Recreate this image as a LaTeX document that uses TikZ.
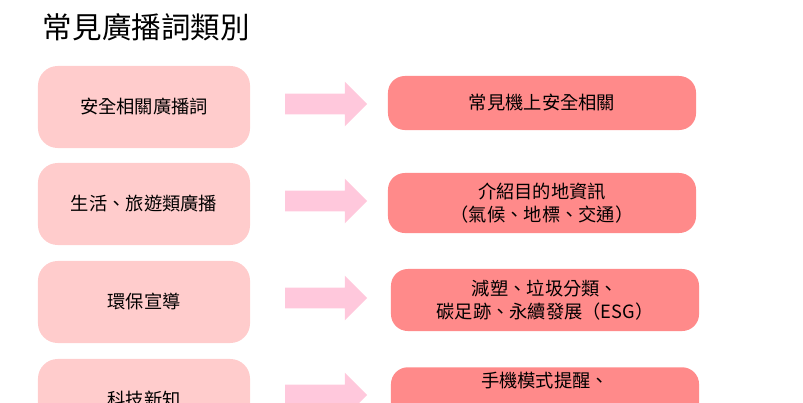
\documentclass[tikz,border=0pt]{standalone}
\usepackage{fontspec}
\newfontfamily\cjk{Noto Sans CJK TC}
\usetikzlibrary{shapes.arrows,positioning}
\definecolor{rosaClaro}{RGB}{255,204,204}
\definecolor{salmon}{RGB}{255,138,138}
\definecolor{rosaFlecha}{RGB}{255,200,220}
\tikzstyle{cat} =[rectangle, rounded corners=14pt, fill=rosaClaro,
                  minimum width=5.3cm, minimum height=2.05cm,
                  font=\cjk\fontsize{13}{16}\selectfont, align=center]
\tikzstyle{item}=[rectangle, rounded corners=12pt, fill=salmon,
                  minimum width=7.7cm, minimum height=1.35cm,
                  font=\cjk\fontsize{13}{16}\selectfont, align=center]
\tikzstyle{flecha}=[single arrow, fill=rosaFlecha, draw=none,
                  text height=0.25cm, text depth=0.25cm, text width=1.2cm,
                  minimum width=1.1cm, minimum height=2.05cm,
                  single arrow head extend=0.3cm, inner sep=0pt]
\begin{document}
\begin{tikzpicture}[x=0.025cm,y=-0.025cm]
\useasboundingbox (0,0) rectangle (803,402);
\clip (0,0) rectangle (803,402);
%%%%%%%%%%         Title        %%%%%%%%%%
\node (T) [anchor=west,font=\cjk\fontsize{21}{24}\selectfont] at (38,27){常見廣播詞類別};

%%%%%%%%%%         Rows        %%%%%%%%%%
\node (c1) [cat] at (144,107){安全相關廣播詞};
\node (c2) [cat] at (144,204){生活、旅遊類廣播};
\node (c3) [cat] at (144,302){環保宣導};
\node (c4) [cat] at (144,400){科技新知};

\node (i1) [item] at (542,103){常見機上安全相關};
\node (i2) [item,minimum height=1.5cm] at (542,203){介紹目的地資訊\\（氣候、地標、交通）};
\node (i3) [item,minimum height=1.55cm] at (545,300){減塑、垃圾分類、\\碳足跡、永續發展（ESG）};
\node (i4) [item,minimum height=1.55cm,anchor=north,text depth=30pt] at (545,367){手機模式提醒、};

\foreach \i in {1,...,4}
	\node (f\i) [flecha] at (321,{104+97*(\i-1)}){};
\end{tikzpicture}
\end{document}
